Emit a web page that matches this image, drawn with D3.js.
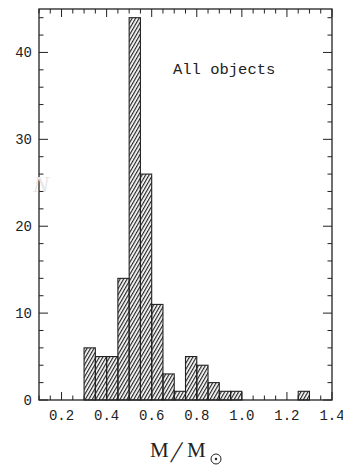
<!DOCTYPE html>
<html>
<head>
<meta charset="utf-8">
<script src="https://cdn.jsdelivr.net/npm/d3@7"></script>
<style>
  html, body { margin: 0; padding: 0; background: #fff; }
  svg { display: block; }
</style>
</head>
<body>
<div id="chart"></div>
<script>
// histogram of masses, bins 0.05 wide
const binStarts = [0.30, 0.35, 0.40, 0.45, 0.50, 0.55, 0.60, 0.65, 0.70, 0.75, 0.80, 0.85, 0.90, 0.95, 1.25];
const counts    = [6,    5,    5,    14,   44,   26,   11,   3,    1,    5,    4,    2,    1,    1,    1];
const binWidth = 0.05;
const xTicks = [0.2, 0.4, 0.6, 0.8, 1.0, 1.2, 1.4];
const yTicks = [0, 10, 20, 30, 40];
const label = 'All objects';

const width = 343;
const height = 468;
const plotL = 39, plotR = 332, plotT = 9, plotB = 400;

const svg = d3.select('#chart')
  .append('svg')
  .attr('width', width)
  .attr('height', height);

const x = d3.scaleLinear().domain([0.1, 1.4]).range([plotL, plotR]);
const y = d3.scaleLinear().domain([0, 45]).range([plotB, plotT]);

const defs = svg.append('defs');
const pat = defs.append('pattern')
  .attr('id', 'hatch')
  .attr('patternUnits', 'userSpaceOnUse')
  .attr('width', 3)
  .attr('height', 3)
  .attr('patternTransform', 'rotate(30)');
pat.append('line')
  .attr('x1', 0.6).attr('y1', -1)
  .attr('x2', 0.6).attr('y2', 4)
  .attr('stroke', '#222')
  .attr('stroke-width', 1.2);

// ticks first so bars sit over the bottom ones
const ink = '#222';
const minorX = d3.range(0.1, 1.4001, 0.05).map(v => +v.toFixed(2));
const minorY = d3.range(0, 45.01, 2);
const isMajorX = v => Math.abs(v * 5 - Math.round(v * 5)) < 1e-6;

const tk = svg.append('g').attr('stroke', ink).attr('stroke-width', 1);
minorX.forEach(v => {
  const len = isMajorX(v) ? 8 : 4.5;
  tk.append('line').attr('x1', x(v)).attr('x2', x(v)).attr('y1', plotB).attr('y2', plotB - len);
  tk.append('line').attr('x1', x(v)).attr('x2', x(v)).attr('y1', plotT).attr('y2', plotT + len);
});
minorY.forEach(v => {
  const len = v % 10 === 0 ? 9 : 4.5;
  tk.append('line').attr('x1', plotL).attr('x2', plotL + len).attr('y1', y(v)).attr('y2', y(v));
  tk.append('line').attr('x1', plotR).attr('x2', plotR - len).attr('y1', y(v)).attr('y2', y(v));
});

// bars
svg.append('g')
  .selectAll('rect')
  .data(binStarts.map((b, i) => ({ b, n: counts[i] })))
  .enter()
  .append('rect')
  .attr('x', d => x(d.b))
  .attr('y', d => y(d.n))
  .attr('width', d => x(d.b + binWidth) - x(d.b))
  .attr('height', d => y(0) - y(d.n))
  .attr('fill', 'url(#hatch)')
  .attr('stroke', ink)
  .attr('stroke-width', 1.1);

// frame
svg.append('rect')
  .attr('x', plotL).attr('y', plotT)
  .attr('width', plotR - plotL).attr('height', plotB - plotT)
  .attr('fill', 'none')
  .attr('stroke', ink)
  .attr('stroke-width', 1.3);

const tickFont = '"Liberation Mono", monospace';

svg.append('g')
  .selectAll('text')
  .data(xTicks)
  .enter()
  .append('text')
  .attr('x', d => x(d))
  .attr('y', 420)
  .attr('text-anchor', 'middle')
  .attr('font-family', tickFont)
  .attr('font-size', 14)
  .attr('fill', ink)
  .text(d => d.toFixed(1));

svg.append('g')
  .selectAll('text')
  .data(yTicks)
  .enter()
  .append('text')
  .attr('x', 32)
  .attr('y', d => y(d) + 5)
  .attr('text-anchor', 'end')
  .attr('font-family', tickFont)
  .attr('font-size', 14)
  .attr('fill', ink)
  .text(d => d);

svg.append('text')
  .attr('x', 173)
  .attr('y', 74)
  .attr('font-family', tickFont)
  .attr('font-size', 15.5)
  .attr('fill', ink)
  .text(label);

// faint y label bleeding through the scan
svg.append('text')
  .attr('x', 33)
  .attr('y', 192)
  .attr('font-family', '"Liberation Serif", serif')
  .attr('font-style', 'italic')
  .attr('font-size', 24)
  .attr('fill', '#e6e6e6')
  .text('N');

// x axis title M/M_sun
const serif = '"Liberation Serif", serif';
svg.append('text')
  .attr('x', 150).attr('y', 457)
  .attr('font-family', serif).attr('font-size', 21).attr('fill', ink)
  .text('M');
svg.append('text')
  .attr('transform', 'translate(170,462) skewX(-14)')
  .attr('font-family', serif).attr('font-size', 30).attr('fill', ink)
  .text('/');
svg.append('text')
  .attr('x', 187).attr('y', 457)
  .attr('font-family', serif).attr('font-size', 21).attr('fill', ink)
  .text('M');
svg.append('circle')
  .attr('cx', 216).attr('cy', 459).attr('r', 5)
  .attr('fill', 'none').attr('stroke', ink).attr('stroke-width', 1);
svg.append('circle')
  .attr('cx', 216).attr('cy', 459).attr('r', 1.2)
  .attr('fill', ink);
</script>
</body>
</html>
